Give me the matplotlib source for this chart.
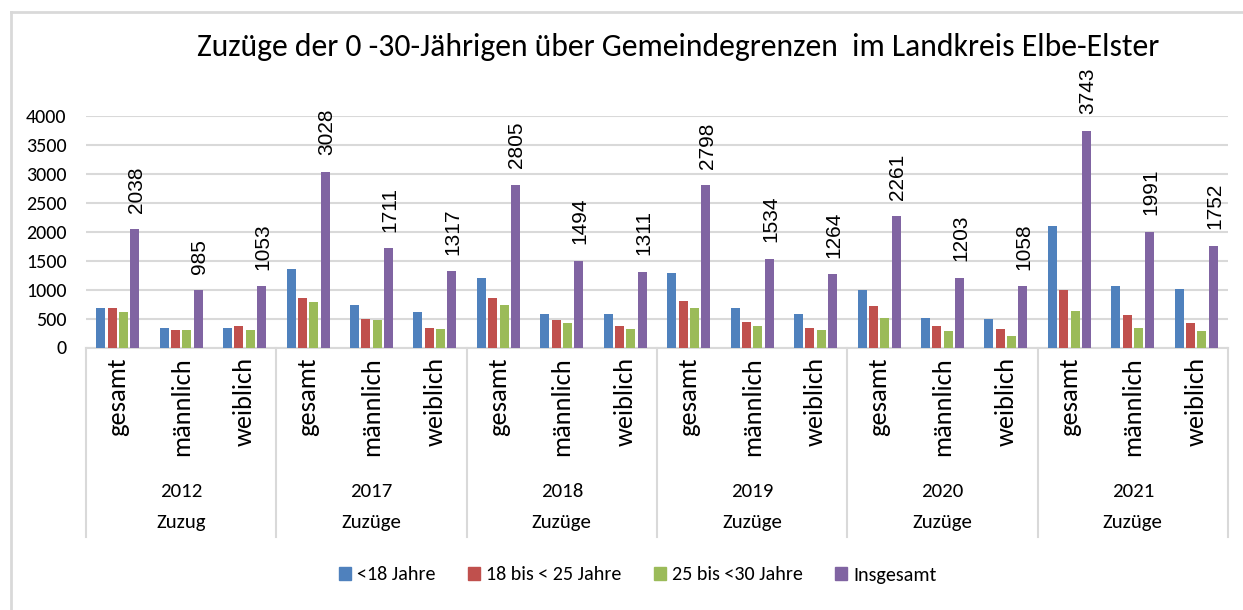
import matplotlib
matplotlib.use("Agg")
import matplotlib.pyplot as plt
from matplotlib import font_manager
from matplotlib.patches import Patch
from matplotlib.lines import Line2D
import numpy as np

# --- data -------------------------------------------------------------
years = ["2012", "2017", "2018", "2019", "2020", "2021"]
kinds = ["Zuzug", "Zuzüge", "Zuzüge", "Zuzüge", "Zuzüge", "Zuzüge"]
groups = ["gesamt", "männlich", "weiblich"]

under18 = [690, 345, 330, 1355, 740, 605, 1195, 575, 575, 1290, 690, 575,
           990, 506, 485, 2090, 1060, 1015]
age18_25 = [690, 305, 370, 855, 490, 345, 855, 466, 370, 806, 437, 345,
            715, 370, 322, 990, 555, 415]
age25_30 = [605, 305, 305, 785, 466, 322, 737, 420, 322, 690, 370, 300,
            506, 282, 207, 622, 345, 282]
total = [2038, 985, 1053, 3028, 1711, 1317, 2805, 1494, 1311, 2798, 1534, 1264,
         2261, 1203, 1058, 3743, 1991, 1752]

series_names = ["<18 Jahre", "18 bis < 25 Jahre", "25 bis <30 Jahre", "Insgesamt"]
colors = ["#4F81BD", "#C0504D", "#9BBB59", "#8064A2"]

# pick a Calibri-like font if one is around
names = {f.name for f in font_manager.fontManager.ttflist}
ui_font = "DejaVu Sans"
for cand in ["Carlito", "Liberation Sans Narrow", "Lato", "Open Sans"]:
    if cand in names:
        ui_font = cand
        break
num_font = "Liberation Sans" if "Liberation Sans" in names else "DejaVu Sans"

W, H = 1243, 610
fig = plt.figure(figsize=(W / 100, H / 100), dpi=100)

# plot area in pixels
x0, x1 = 86, 1228
y_top, y_zero = 115.7, 347.5
ax = fig.add_axes([x0 / W, 1 - y_zero / H, (x1 - x0) / W, (y_zero - y_top) / H])

n = len(total)
centers = np.arange(n) + 0.5
pitch, width = 0.179, 0.142
all_series = [under18, age18_25, age25_30, total]
for k, (vals, col, name) in enumerate(zip(all_series, colors, series_names)):
    ax.bar(centers + (k - 1.5) * pitch, vals, width=width, color=col, label=name, zorder=3)

# value labels on the Insgesamt bars
for xc, v in zip(centers + 1.5 * pitch, total):
    ax.annotate(str(v), (xc, v), xytext=(1, 12), textcoords="offset points",
                rotation=90, ha="center", va="bottom", fontsize=15,
                family=num_font, annotation_clip=False)

ax.set_xlim(0, n)
ax.set_ylim(0, 4000)
ax.set_yticks(np.arange(0, 4001, 500))
ax.yaxis.grid(True, color="#D9D9D9", linewidth=1.5, zorder=0)
for s in ["top", "right", "left"]:
    ax.spines[s].set_visible(False)
ax.spines["bottom"].set_color("#D9D9D9")
ax.spines["bottom"].set_linewidth(1.5)
ax.tick_params(axis="y", length=0, pad=14, labelsize=14.5)
for t in ax.get_yticklabels():
    t.set_family(ui_font)

ax.set_xticks(centers)
ax.set_xticklabels(groups * len(years), rotation=90, fontsize=19, family=ui_font)
ax.tick_params(axis="x", length=0, pad=7)

# multi-level category labels and dividers
tr = ax.get_xaxis_transform()
for i, (yr, kd) in enumerate(zip(years, kinds)):
    mid = i * 3 + 1.5
    ax.text(mid, -0.623, yr, transform=tr, ha="center", va="center",
            fontsize=15, family=ui_font)
    ax.text(mid, -0.753, kd, transform=tr, ha="center", va="center",
            fontsize=15, family=ui_font)
for b in range(0, n + 1, 3):
    ax.add_line(Line2D([b, b], [0, -0.817], transform=tr, color="#D9D9D9",
                       linewidth=1.5, clip_on=False))

fig.text(678 / W, 1 - 47 / H, "Zuzüge der 0 -30-Jährigen über Gemeindegrenzen  im Landkreis Elbe-Elster",
         ha="center", va="center", fontsize=22.8, family=ui_font)

handles = [Patch(color=c, label=nm) for c, nm in zip(colors, series_names)]
fig.legend(handles=handles, loc="center", bbox_to_anchor=(638 / W, 1 - 575 / H),
           ncol=4, frameon=False, handlelength=0.6, handleheight=0.6,
           handletextpad=0.3, columnspacing=1.6,
           prop={"family": ui_font, "size": 14.5})

# chart border (top and left visible)
fig.add_artist(Line2D([11 / W, 1], [1 - 12 / H, 1 - 12 / H], transform=fig.transFigure,
                      color="#D9D9D9", linewidth=2))
fig.add_artist(Line2D([11 / W, 11 / W], [0, 1 - 12 / H], transform=fig.transFigure,
                      color="#D9D9D9", linewidth=2))

fig.savefig("out.png", dpi=100)
